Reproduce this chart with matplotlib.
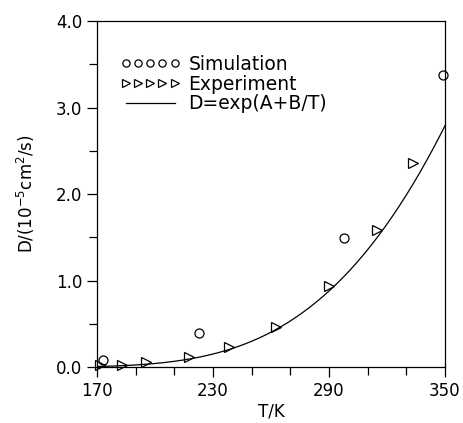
import numpy as np
import matplotlib
matplotlib.use('Agg')
import matplotlib.pyplot as plt
from matplotlib.ticker import FixedLocator, MultipleLocator, FormatStrFormatter

# data
sim_T = [173, 223, 298, 349]
sim_D = [0.085, 0.40, 1.49, 3.38]

exp_T = [171.7, 183, 195.5, 217.7, 238.5, 262.7, 290, 314.7, 333.3]
exp_D = [0.02, 0.03, 0.06, 0.12, 0.23, 0.47, 0.94, 1.59, 2.36]

# fit parameters D = exp(A + B/T)
A = 6.606
B = -1953.0

x_major = [170, 230, 290, 350]
x_minor = [190, 210, 250, 270, 310, 330]

plt.rcParams['font.family'] = 'DejaVu Sans'

fig = plt.figure(figsize=(4.63, 4.23), dpi=100)
ax = fig.add_axes([0.2095, 0.132, 0.7515, 0.818])

T = np.linspace(170, 350, 200)
ax.plot(sim_T, sim_D, linestyle='none', marker='o', ms=6.5, mfc='none', mec='black',
        mew=0.9, clip_on=False, label='Simulation')
ax.plot(exp_T, exp_D, linestyle='none', marker='>', ms=6.5, mfc='none', mec='black',
        mew=0.9, clip_on=False, label='Experiment')
ax.plot(T, np.exp(A + B / T), color='black', lw=0.9, label='D=exp(A+B/T)')

ax.set_xlim(170, 350)
ax.set_ylim(0, 4.0)
ax.xaxis.set_major_locator(FixedLocator(x_major))
ax.xaxis.set_minor_locator(FixedLocator(x_minor))
ax.yaxis.set_major_locator(MultipleLocator(1.0))
ax.yaxis.set_minor_locator(MultipleLocator(0.5))
ax.yaxis.set_major_formatter(FormatStrFormatter('%.1f'))
ax.tick_params(which='both', direction='out', labelsize=12, width=0.9)
ax.tick_params(which='major', length=7)
ax.tick_params(which='minor', length=6)
for s in ax.spines.values():
    s.set_linewidth(0.9)

ax.set_xlabel('T/K', fontsize=12, labelpad=2)
ax.set_ylabel('D/(10$^{-5}$cm$^{2}$/s)', fontsize=12, labelpad=14)

ax.legend(loc='upper left', bbox_to_anchor=(0.045, 0.925), frameon=False, numpoints=5,
          handlelength=3.2, handletextpad=0.45, fontsize=13.5, labelspacing=0.05,
          markerscale=0.8, borderaxespad=0)

fig.savefig('out.png', dpi=100)
